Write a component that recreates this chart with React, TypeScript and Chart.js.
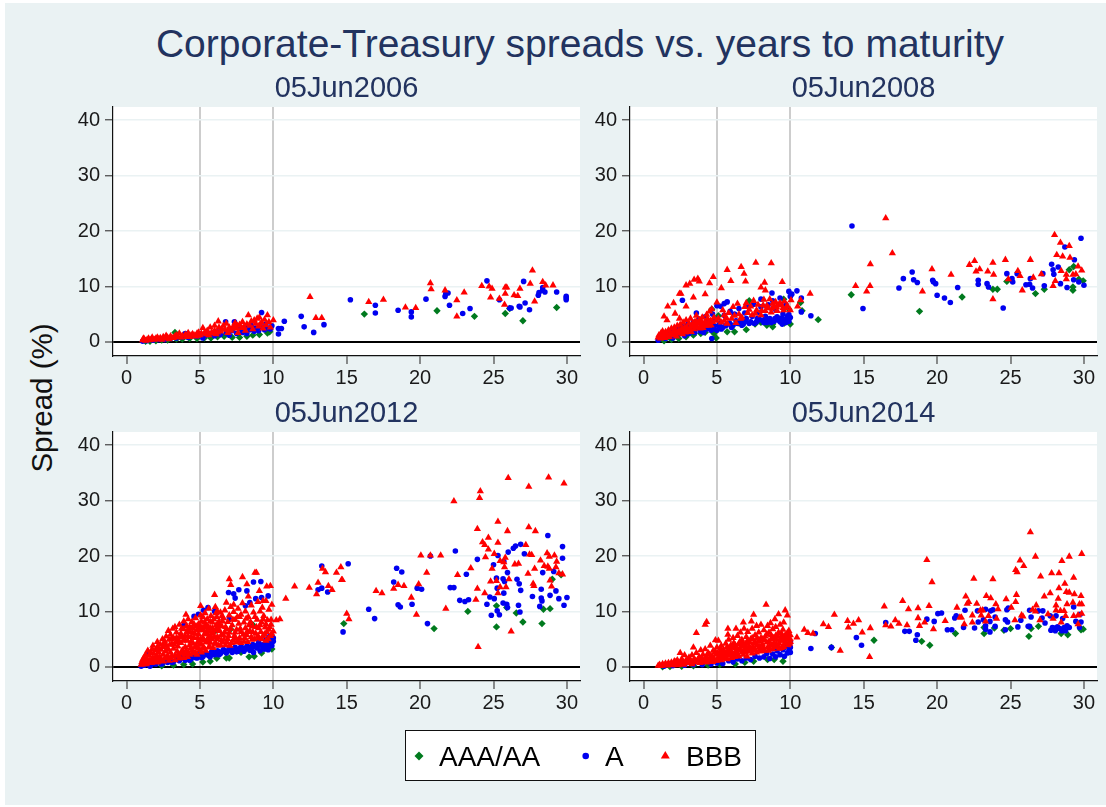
import React, { useEffect, useRef } from "react";
import { Chart, registerables } from "chart.js";

Chart.register(...registerables);

const FONT = "'Liberation Sans', Arial, sans-serif";
const NAVY = "#22335f";
const BG = "#eaf2f3";
const GREEN = "#007a1e";
const BLUE = "#0000f0";
const RED = "#ff0000";

const xTicks = [0, 5, 10, 15, 20, 25, 30];
const yTicks = [0, 10, 20, 30, 40];
const mainTitle = "Corporate-Treasury spreads vs. years to maturity";
const yLabel = "Spread (%)";
const panelTitles = ["05Jun2006", "05Jun2008", "05Jun2012", "05Jun2014"];
const legendLabels = ["AAA/AA", "A", "BBB"];

type P = number[];

const p1Green: P[] = [[1.3,.1],[1.6,.1],[2,.2],[2.4,.3],[2.8,.3],[3.3,1.7],[3.4,.5],[3.8,.5],[4.3,.6],[4.8,.6],[5.3,.7],[5.75,.7],[6.2,.9],[6.65,1],[7.2,.8],[7.7,.8],[8.2,1],[8.6,1.2],[9.05,1.3],[9.6,1.6],[9.75,1.8],[16.2,5],[21.15,5.6],[23.7,4.6],[25.8,5.1],[26.1,6],[27,3.8],[29.3,6.2]];
const p1Blue: P[] = [[1.1,.1],[1.4,.2],[1.8,.3],[2.2,.4],[2.6,.4],[3,.6],[3.4,.7],[3.8,.9],[4,1.5],[4.2,.8],[4.5,1.1],[4.8,1],[5,1.4],[5.2,.7],[5.4,1.2],[5.7,1.5],[6,1.1],[6.2,1.8],[6.4,1.3],[6.75,3.6],[6.8,1.6],[7,1.2],[7.2,2],[7.35,3.6],[7.5,1.5],[7.7,2.3],[7.9,1.7],[8.1,2.6],[8.2,1.5],[8.4,2.2],[8.5,3],[8.7,1.9],[8.8,2.5],[9,2],[9.2,5.3],[9.2,2.7],[9.4,2.2],[9.5,3.2],[9.6,2.5],[9.8,2.3],[9.9,2.9],[10.75,3.7],[10.55,2.4],[10.35,2.4],[10.35,1.4],[11.9,4.6],[12.1,2.7],[12.75,1.7],[13.45,3.1],[15.25,7.6],[16.95,6.6],[16.95,5.2],[18.5,5.7],[19.4,5.4],[19.4,4.5],[20.4,7.7],[21.7,8.2],[21.75,8.7],[21.9,8.8],[22,6.6],[22.9,5.1],[23.4,6],[24.55,11],[25.4,7.6],[26.1,6.1],[26.2,6.1],[26.75,6.4],[26.8,6.3],[27.05,10.9],[27.15,7],[27.45,5.8],[28.05,8.4],[28.1,8.9],[28.35,9.3],[28.35,9.8],[28.5,9],[29.3,9],[29.95,8.2],[29.95,7.6],[29.95,7.9]];
const p1Red: P[] = [[1.1,.3],[1.15,.6],[1.2,.5],[1.3,.2],[1.4,.4],[1.5,.6],[1.6,.3],[1.7,.5],[1.75,.8],[1.9,.4],[2,.6],[2.1,.8],[2.2,.5],[2.3,.7],[2.4,.4],[2.5,.9],[2.6,.6],[2.7,1.1],[2.8,.8],[2.9,.5],[3,1],[3.2,.7],[3.4,1.2],[3.5,.9],[3.6,1.5],[3.8,1.1],[4,1.3],[4.1,.9],[4.2,1.6],[4.4,1.2],[4.5,1.4],[4.7,1],[4.8,1.5],[4.9,1.7],[5,1.2],[5.2,2.5],[5.3,1.6],[5.5,2],[5.6,1.2],[5.7,2.6],[5.8,1.7],[6,2.9],[6,2],[6.1,1.4],[6.25,3.7],[6.3,2.6],[6.4,1.9],[6.6,2.9],[6.7,2.2],[6.8,3.3],[6.9,1.6],[7,2.6],[7.1,2],[7.3,2.9],[7.4,3.4],[7.5,2.4],[7.6,1.6],[7.7,3.1],[7.9,3.6],[8,2.7],[8.1,2],[8.3,4.8],[8.4,2.9],[8.5,3.7],[8.6,2.3],[8.8,3.3],[8.9,4.2],[9,2.8],[9.05,4.4],[9.2,3.5],[9.3,2.4],[9.4,4],[9.5,3],[9.6,4.8],[9.7,3.6],[9.8,2.6],[10,3.9],[12.5,8.1],[12.9,4.3],[13.3,4.3],[16.5,7.2],[17.5,7.6],[19,6.2],[19.7,6.1],[20.7,10.6],[20.75,9.5],[21.7,9.3],[22.5,7.5],[22.5,4.6],[23,8.9],[24.2,10.1],[24.7,10],[24.9,9.6],[24.8,8],[25.4,7.8],[25.8,9.8],[25.9,9.8],[25.8,8.7],[25.75,6.7],[26.4,8.4],[26.65,8.3],[26.8,9.6],[27.5,10.5],[27.65,12.9],[27.8,7.3],[28.35,10.8],[28.55,10.2],[29.05,10.2]];
const p1RedFill: P[] = [[3.1,.7],[3.3,1],[3.7,.8],[4.3,.9],[4.6,1.2],[4.85,1.1],[5.1,1.5],[5.45,1.4],[5.9,1.5],[6.2,1.7],[6.5,2.3],[6.95,2.2],[7.25,2.4],[7.55,2.9],[7.85,2.5],[8.2,3.2],[8.7,3.9],[9.1,3.1]];

const p2Green: P[] = [[1.4,.2],[1.9,.4],[2.4,.6],[2.9,.9],[3.4,1.2],[3.9,1.5],[4.2,1.7],[4.8,1.5],[4.95,.7],[5.1,4.7],[4.65,5.9],[5.7,1.8],[5.9,3.2],[6.2,1.8],[6.5,3.4],[7,2.2],[7.2,7.4],[7.6,3.2],[8,3.5],[8.4,3],[8.8,2.7],[8.8,3.2],[9.2,4.1],[9.55,7.7],[9.6,3.4],[9.9,5.9],[10,3.2],[10.7,7.1],[10.8,5.6],[11.9,4],[14.15,8.5],[18.8,5.5],[21.7,8.1],[23.8,9.5],[24.1,9.5],[24.75,10.9],[26.7,8.7],[27.3,9.5],[29,13],[29.3,13.6],[29.65,11.3],[29.25,9.9],[29.25,9.3],[29.95,11]];
const p2Blue: P[] = [[1,.3],[1.2,.8],[1.3,1.3],[1.5,.6],[1.6,1.6],[1.8,1],[1.9,1.9],[2,.7],[2.2,1.3],[2.3,2.3],[2.5,1.5],[2.6,2.8],[2.65,7.5],[2.8,1.1],[2.9,1.9],[3,3.1],[3.1,1.5],[3.3,2.3],[3.4,3.5],[3.5,1.7],[3.6,5.2],[3.7,2.5],[3.8,4.1],[3.9,1.9],[4,3.1],[4.1,1.7],[4.2,4.5],[4.3,2.3],[4.4,3.6],[4.6,2.1],[4.65,.6],[4.7,5],[4.8,2.9],[4.9,4.1],[5,2.1],[5,6.5],[5.2,3.4],[5.25,6.4],[5.4,2.6],[5.5,6.9],[5.5,4.8],[5.7,7.2],[5.7,3.2],[5.9,5.5],[6,2.6],[6.2,5],[6.3,3.8],[6.5,6],[6.7,3],[6.8,3.2],[6.9,5.2],[7,4.2],[7.1,6.4],[7.2,3.3],[7.4,4.6],[7.5,6.8],[7.7,3.6],[7.8,5.3],[7.9,4],[8,7.7],[8,6.3],[8.2,3.5],[8.3,4.6],[8.4,3.5],[8.5,6.7],[8.6,4.2],[8.75,8.8],[8.8,7.4],[8.9,3.7],[9,5.8],[9.1,4.5],[9.3,7.9],[9.3,3.6],[9.45,3.2],[9.5,5],[9.6,4],[9.7,6.7],[9.8,4.6],[9.9,9.1],[9.9,3.7],[10,4.4],[10,8.2],[10.1,8.6],[10.45,9.2],[10.75,7.9],[10.75,5.4],[11.4,4.7],[14.2,20.9],[14.95,6],[17.4,9.7],[17.7,11.4],[18.3,12.6],[18.4,11.2],[18.65,10.7],[19.7,11.1],[19.75,10.8],[19.9,10.5],[20,8.4],[20.5,7.9],[20.9,7.1],[21.4,9.8],[22.8,11.1],[22.8,10.4],[23.4,10.5],[23.5,9.9],[24.5,6.1],[24.75,12.3],[25.1,11.4],[25.15,10.8],[25.45,12.3],[26.05,10.3],[26.3,10.4],[26.35,11.4],[26.5,9.7],[27.2,12.3],[27.3,10.1],[27.8,14],[27.9,13],[27.95,12.2],[28.25,13.5],[28.7,17.1],[28.4,10.5],[28.85,9.8],[29.35,14.8],[29.3,11.2],[29.65,10.8],[29.8,18.7],[30,10.2]];
const p2BlueFill: P[] = [[4.5,2.6],[4.75,2.3],[5.1,2.9],[5.3,2.3],[5.6,2.9],[5.85,3.4],[6.1,3],[6.4,3.3],[6.6,3.7],[6.95,3.7],[7.3,3.6],[7.55,3.3],[7.75,4.2],[8.1,3.9],[8.45,3.9],[8.7,3.5],[8.95,4.2],[9.2,3.9],[9.4,4.3],[9.7,3.5],[9.9,4.9]];
const p2Red: P[] = [[1,.8],[1.05,1.2],[1.1,.9],[1.2,1.6],[1.25,1],[1.3,1.9],[1.4,1.3],[1.4,4.6],[1.5,1.8],[1.6,3.9],[1.6,1.2],[1.65,6.4],[1.7,2.1],[1.8,1.5],[1.9,2.4],[2,1.8],[2.05,7],[2.1,2.6],[2.15,5.1],[2.2,1.5],[2.3,2.9],[2.4,2],[2.45,8.7],[2.45,4.2],[2.5,3.1],[2.55,8.7],[2.6,2.3],[2.7,3.5],[2.8,2.6],[2.9,10.2],[2.9,6.4],[2.9,3.9],[3,2.2],[3.1,3.3],[3.15,10.5],[3.2,4.2],[3.3,2.8],[3.4,8],[3.45,11.2],[3.5,3.6],[3.6,4.7],[3.65,2.6],[3.7,11.4],[3.8,10.9],[3.8,3.9],[3.9,3],[4,4.4],[4.1,2.9],[4.2,8.6],[4.2,3.6],[4.3,4.9],[4.4,3.4],[4.5,10.6],[4.5,5.5],[4.6,3],[4.65,5.9],[4.75,11.7],[5,7.1],[5.1,4.2],[5.3,9.7],[5.3,3.5],[5.4,5.7],[5.5,4.8],[5.7,13],[5.7,3.3],[5.8,5.2],[5.95,11],[6,4.2],[6.1,6.3],[6.3,3.4],[6.4,6.9],[6.5,5],[6.65,13.5],[6.7,4.4],[6.85,12.3],[6.9,6.3],[6.95,10.9],[7,7],[7.1,5.2],[7.3,6.4],[7.4,4.8],[7.5,7.4],[7.65,14.3],[7.7,5.7],[7.8,6.7],[8,9.8],[8,4.8],[8.2,7.6],[8.25,10.7],[8.3,9.3],[8.3,5.6],[8.4,6.5],[8.6,7.7],[8.7,14.2],[8.7,5.3],[8.9,6.4],[9,7.2],[9.1,5.6],[9.3,7],[9.45,10.8],[9.5,6.1],[9.6,7.3],[9.8,6.5],[10,5.7],[10.05,7.5],[10.5,6.4],[10.7,7.5],[11.35,8.7],[16.5,22.3],[16.95,16],[15.45,14],[14.45,10.1],[15.43,10.1],[15.2,9.1],[19.65,13.1],[20.95,12.1],[19,9.1],[22.2,13.9],[22.55,14.6],[22.65,12.7],[22.9,13.1],[23.45,12.7],[23.8,14.3],[23.85,12.1],[23.8,7.7],[24.65,14.8],[24.85,11.3],[25.5,12.8],[25.65,11.9],[25.8,9.3],[26.35,14.8],[26.55,11.6],[27.1,12.2],[27.9,10.1],[28.05,11],[28,19.3],[28.4,17.9],[29,17.3],[28.15,15.7],[28.55,15.4],[29.05,15.2],[28.45,12.8],[28.8,12.1],[28.8,11.3],[29.25,12.1],[29.45,12.2],[29.6,13.6],[29.85,12.9]];
const p2RedFill: P[] = [[1.15,.6],[1.35,.9],[1.55,1.4],[1.75,.9],[1.95,1.2],[2.15,2],[2.35,1.7],[2.55,1.6],[2.75,2.1],[2.95,2.6],[3.15,2.4],[3.35,3.3],[3.55,3],[3.75,3.4],[3.95,3.7],[4.15,3.3],[4.35,4.2],[4.55,3.8],[4.8,4.4],[5.5,3.8],[5.65,4.3],[6.2,4.7],[6.6,4.2],[7.2,5.8],[7.6,5.1],[8.05,5.6],[8.5,6.1],[8.8,6.9],[9.05,6.3],[9.4,6.6],[1.45,.7],[2.05,1.4],[2.25,1],[2.65,1.4],[2.85,1.7],[3.05,1.9],[3.25,1.8],[3.45,2.3],[3.6,3.7],[3.85,2.4],[4.05,2.5],[4.25,2.9],[4.45,2.9],[4.7,3.6],[4.95,3.8],[8.15,6.6],[8.75,6],[9.2,6.6],[9.55,5.7],[9.7,6.1]];

const p3Green: P[] = [[2.4,.2],[3.2,.3],[3.9,.4],[4.5,.5],[5.2,.85],[5.7,1],[6.15,1.55],[6.8,1.6],[7,1.6],[7.8,2.6],[8.35,1.8],[8.7,1.9],[9.2,2.5],[9.9,3.2],[6.1,6.6],[7.1,6.8],[8.6,7.6],[14.8,7.8],[29,15.8],[29.6,16.6],[25.2,11],[25.9,10.7],[28.4,10.4],[28.85,10.5],[23.25,10],[26.55,9.7],[27,8.1],[25.2,7.2],[28.3,7.8],[20.95,6.9]];
const p3Blue: P[] = [[1,.1],[1.2,.3],[1.4,.6],[1.5,2.4],[1.6,.1],[1.8,.9],[2,.5],[2.2,1.1],[2.4,.5],[2.6,1.2],[2.8,.8],[3,1.3],[3.2,.9],[3.4,1.6],[3.6,1.1],[3.8,1.7],[3.9,7.5],[4,1.2],[4.2,1.9],[4.4,1.4],[4.6,9.1],[4.6,2.1],[4.8,1.6],[4.9,9.5],[5,2.2],[5.2,1.8],[5.25,10.2],[5.4,2.5],[5.55,10.7],[5.6,2],[5.8,2.7],[6,2.2],[6,10],[6.2,2.9],[6.4,2.4],[6.6,3.1],[6.8,2.5],[6.95,13.4],[7,3.3],[7,8.6],[7.2,2.6],[7.3,13.2],[7.4,12.4],[7.4,3.5],[7.6,2.8],[7.65,13.9],[7.8,3.6],[8,2.8],[8.1,11],[8.2,13.7],[8.2,3.7],[8.4,11.6],[8.4,3],[8.6,4],[8.65,15.3],[8.65,2.6],[8.8,12.3],[8.9,3.4],[9,4.4],[9.1,2.9],[9.15,15.4],[9.2,12.5],[9.3,4],[9.4,3.2],[9.5,4.9],[9.6,3.6],[9.65,12.8],[9.65,3.1],[9.7,5.4],[9.8,4.2],[9.9,5.6],[9.9,3.8],[10,5.2],[10,4.6],[13.3,18.2],[13.05,13.9],[13.3,14.2],[13.7,13.5],[15.1,18.6],[14.75,6.3],[16.5,10.4],[16.9,8.7],[18.2,15.3],[18.4,17.8],[18.75,17.1],[18.5,11.2],[18.65,10.8],[19.45,11.3],[19.8,14.2],[20.1,14],[20.5,7.8],[20.7,20],[22.05,14.3],[22.3,14.3],[22.4,20.9],[22.7,12],[23.05,11.8],[23.15,16.7],[23.3,12.1],[23.9,19.4],[24.55,11.3],[24.75,12.6],[24.85,9.3],[25,18.4],[25.05,12.3],[25.2,16],[25.25,14.2],[25.25,10.1],[25.3,20.1],[25.4,9.4],[25.65,15.9],[25.65,11.5],[25.7,19],[25.7,13.3],[25.75,15.4],[25.9,11.3],[25.95,17],[25.95,10.7],[26,20.7],[26.35,21.4],[26.5,21.8],[26.6,15.8],[26.7,11.1],[26.75,15],[26.8,9.9],[26.85,22.1],[26.85,13.8],[27.1,20.4],[27.65,12.7],[28.15,10.9],[28.25,14],[28.25,12.4],[28.3,11.9],[28.35,17],[28.7,23.7],[28.85,12.9],[29.1,17.2],[29.25,13.7],[29.45,12.3],[29.7,21.7],[29.7,19.6],[29.8,11.1],[30,12.5]];
const p3BlueFill: P[] = [[1.3,.8],[1.7,.4],[2.1,.9],[2.5,.8],[2.9,1.2],[3.1,.8],[3.5,1.3],[3.7,1.5],[4.1,1.6],[4.3,1.2],[4.5,1.8],[4.7,1.7],[4.9,2],[5.1,1.7],[5.3,2.2],[5.5,2.3],[5.7,1.8],[5.9,2.4],[6.1,2.6],[6.3,2.2],[6.5,2.7],[6.7,2.8],[6.9,2.9],[7.1,3],[7.3,3.1],[7.5,2.7],[7.7,3.3],[7.9,3.4],[8.1,3.2],[8.3,3.6],[8.5,3.3],[8.7,3.6],[8.9,3.9],[9.1,3.9],[9.3,3.4],[9.5,4.3],[9.7,4.6],[9.9,4.8]];
const p3Red: P[] = [[1,.4],[1.05,.9],[1.1,1.3],[1.15,.5],[1.2,1.7],[1.25,.9],[1.3,2.2],[1.35,.5],[1.4,1.4],[1.45,2.9],[1.5,.8],[1.55,2],[1.6,1.2],[1.65,2.6],[1.7,.7],[1.75,3.2],[1.8,3.8],[1.8,1.6],[1.85,2.4],[1.9,.9],[2,3],[2,1.5],[2.05,2.1],[2.1,4.5],[2.1,3.6],[2.15,1],[2.2,2.6],[2.25,1.8],[2.3,4],[2.35,3.1],[2.4,1.2],[2.45,5],[2.5,2.2],[2.5,3.6],[2.6,4.6],[2.6,1.5],[2.65,2.8],[2.7,5.5],[2.7,3.9],[2.8,2],[2.85,6.5],[2.85,3.2],[2.9,4.9],[3,1.6],[3,5.8],[3,2.6],[3.1,4.1],[3.15,6.9],[3.2,3.3],[3.2,5.2],[3.3,2],[3.3,7.2],[3.35,4.5],[3.4,6.2],[3.45,2.8],[3.5,5],[3.5,3.7],[3.6,7.6],[3.6,1.9],[3.7,6],[3.7,4.3],[3.8,3],[3.8,5.4],[3.9,8.2],[3.9,6.8],[3.95,2.3],[4,4.8],[4,3.6],[4.05,9.4],[4.1,6.3],[4.2,8.6],[4.2,2.6],[4.2,5.5],[4.3,3.9],[4.3,7.2],[4.4,4.6],[4.45,8.1],[4.5,6.2],[4.5,3],[4.6,5.2],[4.6,7.7],[4.7,2.5],[4.7,8.8],[4.75,3.7],[4.8,6.7],[4.85,4.5],[4.9,5.9],[5,7.4],[5,3],[5.05,11],[5.05,9.3],[5.1,4],[5.1,8.2],[5.2,5.2],[5.25,6.6],[5.3,3.3],[5.35,9.7],[5.4,7.7],[5.45,4.5],[5.5,8.6],[5.5,5.9],[5.6,10.5],[5.65,3.7],[5.7,7],[5.75,9.2],[5.8,5],[5.85,8],[5.9,6.2],[6,13],[6,4.2],[6.05,10.8],[6.1,7.5],[6.15,9],[6.2,5.4],[6.25,3.8],[6.3,8.2],[6.35,6.5],[6.4,9.8],[6.45,4.8],[6.5,7.3],[6.6,5.7],[6.6,8.8],[6.7,10.2],[6.75,3.9],[6.8,11.6],[6.8,6.8],[6.9,8.1],[6.9,5],[7,15.8],[7,9.3],[7,6.2],[7.1,14.8],[7.1,10.8],[7.15,4.3],[7.2,7.5],[7.3,9.9],[7.35,5.6],[7.4,8.5],[7.5,4.4],[7.5,6.7],[7.6,10.5],[7.65,7.8],[7.7,5.2],[7.8,9.4],[7.8,6.3],[7.9,16.2],[7.9,11.5],[8,4.6],[8,8],[8.1,7],[8.1,10],[8.2,14.9],[8.2,5.7],[8.3,9],[8.3,12.7],[8.4,6.5],[8.45,8.1],[8.5,11.1],[8.55,4.9],[8.6,7.3],[8.65,9.8],[8.75,17],[8.8,6],[8.85,17],[8.9,8.5],[8.95,11.7],[9,5.2],[9,7],[9.05,13.7],[9.1,10],[9.15,6.3],[9.2,8],[9.3,5.6],[9.3,11.9],[9.35,9.2],[9.45,7.1],[9.5,11.9],[9.5,4.7],[9.55,14.5],[9.55,6.3],[9.6,8.4],[9.7,10.3],[9.75,7.2],[9.8,14.6],[9.8,5.6],[9.85,8.5],[9.9,11.2],[10,6.4],[10.2,8.4],[10.45,8.6],[10.85,12.3],[11.45,14.5],[12.45,14.3],[12.95,13.1],[13.05,15.2],[13.35,17.7],[13.55,17.1],[13.75,14.6],[14,13.9],[14.3,17],[14.6,18],[14.65,15.7],[14.7,15.7],[15,9.6],[15.15,8.6],[17,13.7],[17.4,13.3],[18.2,14.1],[18.5,14.8],[18.9,14.6],[19.4,12.5],[19.75,9.4],[19.9,14.9],[20.05,20.1],[20.45,17],[20.7,20.1],[21.4,20.1],[21.75,10.5],[22.3,29.9],[22.55,16.6],[23.45,17.8],[23.8,12.1],[23.9,24.9],[23.9,14.1],[23.95,3.6],[24.05,30.5],[24.1,31.7],[24.25,22.5],[24.4,22],[24.4,13.3],[24.45,19.8],[24.65,23.3],[24.65,21.2],[24.8,15.4],[24.9,17.7],[25.05,20.4],[25.2,15.5],[25.3,26.2],[25.3,22.4],[25.3,13.3],[25.45,19.1],[25.45,14.4],[25.7,18.9],[25.75,18],[25.8,19.7],[25.85,14.4],[25.95,24.5],[26,34.1],[26.05,15.8],[26.2,6.4],[26.45,18.5],[26.7,18.6],[27.2,22],[27.35,16.8],[27.4,32.5],[27.4,25.2],[27.45,20.3],[27.6,20.2],[27.7,15],[27.75,14.6],[27.8,17.7],[27.85,24.5],[28.2,19.2],[28.45,18.2],[28.65,20.5],[28.7,18.1],[28.75,34.2],[28.8,19.9],[28.8,17.7],[28.85,15.6],[28.95,14.5],[29.15,20.1],[29.25,18],[29.3,19],[29.45,16.9],[29.7,16.7],[29.8,33.1]];
const p3RedFill: P[] = [[1.6,.7],[1.9,1.3],[2.1,.8],[2.3,1.5],[2.5,1],[2.7,1.7],[2.9,1.1],[3.1,1.9],[3.3,1.2],[3.5,2.2],[3.6,1.5],[3.75,2.5],[3.9,1.6],[4.05,2.9],[4.15,1.8],[4.3,2.2],[4.35,3.3],[4.5,2.4],[4.65,3.5],[4.8,2.2],[4.9,3.3],[5,4.2],[5.1,2.6],[5.25,3.6],[5.3,4.7],[5.4,2.9],[5.55,5.2],[5.6,3.5],[5.7,4.4],[5.8,6],[5.9,3.4],[6,5.4],[6.1,4.2],[6.2,6.8],[6.25,7.9],[6.4,3.9],[6.55,4.4],[6.7,6.2],[6.85,4.4],[7.05,3.8],[7.25,4.7],[7.4,6.2],[7.6,4.7],[7.8,4.3],[8.05,5.2],[8.25,4.5],[8.5,5.4],[8.7,5],[8.95,5.6],[9.2,5],[9.4,5.9],[9.65,5],[9.9,5.9],[4.3,6.3],[4.9,7.7],[5.3,8],[5.7,8.2],[6.1,9.7],[6.5,9.2],[7.3,11.2],[7.7,9],[8.15,8.7],[8.75,9],[9.25,10.7],[2.2,3.3],[2.55,4.2],[2.75,3.1],[2.95,4],[3.05,5],[3.25,4],[3.4,5.2],[3.55,4.4],[3.65,5.4],[3.75,6.9],[3.85,4.7],[4,5.6],[4.1,7.4],[4.15,4.7],[4.25,6.7],[4.4,5.4],[4.5,7],[4.55,4.2],[4.65,6],[4.75,7.3],[4.85,5.2],[4.95,6.6],[5.05,5],[5.15,7],[5.2,9],[5.3,5.9],[5.35,7.2],[5.45,6.4],[5.55,7.3],[5.6,4.4],[5.65,6.4],[5.75,5.5],[5.85,7],[5.95,8.6],[6.05,6.6],[6.15,5],[6.2,10],[6.35,7.4],[6.45,5.7],[6.55,8.2],[6.65,4.9],[6.75,7.2],[6.95,5.6],[7.1,6.9],[7.25,8.5],[7.45,5.1],[7.55,9],[7.75,6.9],[7.95,5.8],[8.2,6.3],[8.35,7.5],[8.6,6.3],[8.85,7.2],[9.1,7.5],[9.3,8.6],[9.5,7.7],[9.7,6.7],[9.85,7.6]];

const p4Green: P[] = [[1.3,0],[1.8,.05],[2.6,.1],[3.4,.2],[4.4,.3],[5.2,.4],[6.25,.5],[6.9,.8],[7.5,1],[8.45,1.3],[8.9,1.3],[9.5,1],[12.8,3.5],[15.7,4.8],[18.95,4.6],[19.5,3.9],[21.25,6],[23.2,6],[23.2,7.1],[23.9,7],[24.55,6.6],[25,6.9],[26.25,5.5],[26.4,6.9],[26.9,7.3],[28.45,6],[28.9,5.8],[29.8,6.7],[29.95,6.8]];
const p4Blue: P[] = [[1.4,.1],[2,.2],[2.8,.3],[3.4,.4],[4,.4],[4.6,.5],[5,.7],[5.4,.6],[5.8,1.1],[6.1,.9],[6.4,1.4],[6.7,1.1],[7,1.6],[7.3,1.3],[7.6,1.9],[7.9,1.6],[8.2,1.8],[8.4,2.4],[8.6,1.5],[8.8,2.3],[9,1.8],[9.1,2.9],[9.3,2.2],[9.5,3.1],[9.6,1.9],[9.7,3.6],[9.8,2.5],[9.9,2.8],[10,4.4],[10,2.6],[10,3.5],[11.7,6],[11.4,3.3],[12.8,3.5],[14.5,5.3],[14.85,3.9],[16.5,8],[17.8,6.4],[18.1,6.4],[18.65,5.8],[18.55,4.8],[19.3,8.6],[19.8,8.2],[20.05,9.6],[20.3,9.7],[20.7,6.7],[21,6.7],[21.2,8.8],[21.3,9.2],[21.8,7.1],[21.9,10.2],[22.55,7],[22.8,8.1],[22.75,10.1],[23.15,8.5],[23.3,10.4],[23.65,10.1],[23.8,10.3],[23.6,8.2],[23.6,6.3],[23.3,7.4],[23.3,6.8],[23.95,7.3],[23.95,9],[24.65,8.5],[24.8,8.1],[24.65,6.7],[24.75,10.3],[24.85,10.6],[25.5,7.2],[25.7,8.4],[26.3,10.2],[26.4,9],[26.2,7.3],[26.3,7.3],[26.9,10.1],[27.2,10.1],[27.15,8.8],[27.35,7.9],[27.7,9.2],[28.1,9.2],[27.75,6.6],[27.85,7.1],[28.05,6.5],[28.2,7.2],[28.35,6.9],[28.5,6.5],[28.65,7.1],[28.85,7.4],[29,7.1],[28.75,6.5],[27.95,7],[28.55,8.7],[29.3,10.8],[29.45,8.2],[29.8,8.1],[29.7,7.1],[29.75,9.5]];
const p4Red: P[] = [[1,.2],[1.1,.4],[1.2,.15],[1.3,.5],[1.4,.3],[1.5,.6],[1.6,.25],[1.7,.7],[1.8,.4],[1.9,.8],[2,.3],[2.05,.6],[2.1,1],[2.2,.5],[2.3,1.2],[2.35,.3],[2.4,.8],[2.5,2.5],[2.5,.5],[2.6,1.4],[2.7,.9],[2.75,.4],[2.8,2.1],[2.9,1.2],[3,.7],[3.1,1.7],[3.2,1],[3.3,2.1],[3.3,.5],[3.4,3.5],[3.45,1.4],[3.5,.8],[3.6,6.1],[3.6,2.5],[3.7,1.1],[3.8,1.8],[3.85,.7],[3.9,3],[4,1.4],[4.05,2.2],[4.1,.9],[4.2,7.6],[4.2,3.2],[4.25,1.7],[4.3,8.1],[4.3,.8],[4.4,2.5],[4.5,1.2],[4.55,3.8],[4.6,1.9],[4.7,.9],[4.75,2.9],[4.8,1.4],[4.9,4.8],[4.95,2.2],[5,1.1],[5,3.5],[5.1,4.7],[5.15,1.7],[5.2,2.7],[5.3,1.2],[5.3,3.8],[5.4,2.1],[5.45,3.1],[5.5,1.5],[5.6,4.2],[5.65,2.5],[5.7,1.4],[5.75,6.9],[5.75,5.8],[5.8,3.2],[5.8,4.9],[5.9,2],[5.95,3.9],[6,1.6],[6,2.8],[6.1,5.2],[6.15,4.3],[6.2,1.8],[6.3,6.9],[6.3,3.4],[6.35,2.4],[6.4,5.6],[6.5,4.1],[6.5,1.9],[6.6,6.2],[6.6,2.9],[6.7,3.7],[6.7,4.9],[6.8,8],[6.8,2.2],[6.85,6.9],[6.9,3.2],[7,5.4],[7,4.3],[7.05,1.9],[7.1,6.3],[7.15,2.8],[7.2,3.7],[7.3,5],[7.35,8.2],[7.4,6.9],[7.4,2.4],[7.5,9.4],[7.5,4.2],[7.55,3.2],[7.6,5.7],[7.7,7.4],[7.7,2.6],[7.8,4.6],[7.85,6.2],[7.9,3.6],[8,5.2],[8,7.6],[8,2.8],[8.1,4.1],[8.2,6.6],[8.2,3.2],[8.3,5.5],[8.35,11.2],[8.4,4.4],[8.45,7.4],[8.5,2.9],[8.55,6.2],[8.6,3.8],[8.65,7.9],[8.7,5],[8.8,6.8],[8.8,3.2],[8.9,4.3],[8.95,8.6],[9,5.6],[9,7.2],[9.1,3.6],[9.2,9.5],[9.2,6.2],[9.3,4.7],[9.3,7.6],[9.4,3.4],[9.45,5.4],[9.5,6.7],[9.55,8],[9.6,4.2],[9.65,10.2],[9.7,5.2],[9.8,9.3],[9.8,6.1],[9.85,3.9],[9.9,4.9],[10,5.7],[10.45,5.3],[10.95,6.7],[11.2,6.1],[11.55,6],[12.25,7.7],[12.6,7.2],[13,9.4],[13.4,2.9],[13.9,8.3],[13.95,7.1],[14.3,7.8],[14.65,8.4],[14.9,6.2],[15.4,1.8],[15.45,7],[16.4,10.9],[16.5,7.5],[16.85,7.3],[17.15,8.4],[17.4,7.8],[17.65,11.9],[17.95,7.5],[18.05,10.4],[18.7,10.6],[18.7,8.8],[18.8,7.4],[19.15,8],[19.3,19.3],[19.45,11],[19.65,15.3],[19.75,6.8],[20.55,8.3],[21.35,10.7],[21.55,8.9],[21.65,8.9],[21.85,7.7],[21.95,12.7],[22.05,11.4],[22.15,11.7],[22.4,9.3],[22.4,8],[22.5,15.9],[22.7,11.4],[22.95,10.2],[23,9.3],[23.1,10.2],[23.3,8.2],[23.35,12.8],[23.5,9.2],[23.65,12.4],[23.8,15.8],[24,11.3],[24.05,8.7],[24.15,10.4],[24.7,12.2],[25.05,10.7],[25.3,8.4],[25.35,17.5],[25.35,11.7],[25.4,13],[25.45,17.1],[25.65,19.2],[25.75,9.3],[25.85,9.1],[25.9,18.2],[26.35,24.3],[26.5,10.3],[26.7,19.9],[26.7,10],[26.75,11.1],[27,8.4],[27.05,16.3],[27.3,12.7],[27.55,9.5],[27.7,13.3],[27.8,16.9],[27.9,8.7],[28.1,11.1],[28.1,10.2],[28.25,12.3],[28.3,16.9],[28.3,14.2],[28.4,10.1],[28.45,8],[28.5,19.1],[28.65,10.1],[28.7,15],[28.75,9.2],[28.8,13.5],[28.85,11.3],[29,19.9],[29,13.4],[29.25,11.6],[29.3,16.1],[29.3,9.2],[29.35,13.1],[29.6,9.3],[29.6,7.7],[29.7,11.3],[29.8,12.8],[29.85,20.4],[29.85,11.3],[29.85,9.6]];
const p4RedFill: P[] = [[2.2,.9],[2.55,.9],[2.85,.7],[3.05,1.1],[3.25,.7],[3.55,1.1],[3.75,1.5],[3.95,1.1],[4.15,1.3],[4.35,1.5],[4.55,1.1],[4.65,1.6],[4.85,1.1],[5.05,1.5],[5.25,1.7],[5.35,2.3],[5.55,1.9],[5.75,2.2],[5.85,2.7],[6.05,2.1],[6.25,2.7],[6.45,2.2],[6.55,3.3],[6.75,2.7],[6.95,2.6],[7.1,3.3],[7.25,3.1],[7.45,3.6],[7.65,3],[7.75,3.9],[7.95,3.2],[8.15,3.6],[8.25,2.9],[8.45,3.5],[8.6,3.2],[8.75,4],[8.95,3.6],[9.05,4.1],[9.25,3.3],[9.35,5.2],[9.55,3.6],[9.7,4.4],[9.95,4.2],[10,5],[4.5,2.2],[4.7,1.9],[4.9,2.7],[5.05,2.4],[5.25,3.3],[5.5,2.7],[5.7,3.6],[5.9,3],[6.05,3.5],[6.25,3.9],[6.4,3.1],[6.55,4.5],[6.75,4.3],[6.9,3.9],[7.1,4.7],[7.25,4.4],[7.4,5.2],[7.6,4.5],[7.75,5.2],[7.9,4.6],[8.1,5],[8.25,4.8],[8.4,5.9],[8.55,4.6],[8.7,5.7],[8.85,5.2],[9.05,4.9],[9.15,5.5],[9.25,4.2],[9.4,6],[9.55,4.7],[9.65,5.7],[9.8,5.2],[9.9,6.5],[10,4.5]];

const panelData = [
  { green: p1Green, blue: p1Blue, red: [...p1Red, ...p1RedFill] },
  { green: p2Green, blue: [...p2Blue, ...p2BlueFill], red: [...p2Red, ...p2RedFill] },
  { green: p3Green, blue: [...p3Blue, ...p3BlueFill], red: [...p3Red, ...p3RedFill] },
  { green: p4Green, blue: p4Blue, red: [...p4Red, ...p4RedFill] },
];

const toXY = (pts: P[]) => pts.map(([x, y]) => ({ x, y }));

function Panel({ index, left, top }: { index: number; left: number; top: number }) {
  const ref = useRef<HTMLCanvasElement>(null);
  useEffect(() => {
    const d = panelData[index];
    const chart = new Chart(ref.current!, {
      type: "scatter",
      data: {
        datasets: [
          { label: "BBB", data: toXY(d.red), order: 0, pointStyle: "triangle", pointRadius: 4.2, pointHoverRadius: 4.2, pointBorderWidth: 0, backgroundColor: RED },
          { label: "A", data: toXY(d.blue), order: 1, pointStyle: "circle", pointRadius: 2.8, pointHoverRadius: 2.8, pointBorderWidth: 0, backgroundColor: BLUE },
          { label: "AAA/AA", data: toXY(d.green), order: 2, pointStyle: "rectRot", pointRadius: 3.7, pointHoverRadius: 3.7, pointBorderWidth: 0, backgroundColor: GREEN },
        ],
      },
      options: {
        animation: false,
        responsive: false,
        events: [],
        layout: { padding: { right: 5 } },
        plugins: {
          legend: { display: false },
          tooltip: { enabled: false },
          title: {
            display: true,
            fullSize: false,
            text: panelTitles[index],
            color: NAVY,
            font: { family: FONT, size: 29, weight: "normal", lineHeight: 1.207 },
            padding: { top: 1, bottom: 1 },
          },
        },
        scales: {
          x: {
            type: "linear",
            min: -0.92,
            max: 30.89,
            afterBuildTicks: (s: any) => { s.ticks = xTicks.map((value) => ({ value })); },
            afterFit: (s: any) => { s.height = 40; },
            ticks: { color: "#1a1a1a", padding: 2, maxRotation: 0, autoSkip: false, font: { family: FONT, size: 20 } },
            border: { display: true, color: "#111", width: 1.2 },
            grid: {
              drawTicks: true,
              tickLength: 8,
              tickColor: "#444",
              tickWidth: 1.2,
              color: (c: any) => (c.tick && (c.tick.value === 5 || c.tick.value === 10) ? "#cdcdcd" : "rgba(0,0,0,0)"),
              lineWidth: 2,
            },
          },
          y: {
            type: "linear",
            min: -2.56,
            max: 42.38,
            afterBuildTicks: (s: any) => { s.ticks = yTicks.map((value) => ({ value })); },
            afterFit: (s: any) => { s.width = 45; },
            ticks: { color: "#1a1a1a", padding: 5, autoSkip: false, font: { family: FONT, size: 20 } },
            border: { display: true, color: "#111", width: 1.2 },
            grid: {
              drawTicks: true,
              tickLength: 8,
              tickColor: "#444",
              tickWidth: 1.2,
              color: (c: any) => (c.tick && c.tick.value === 0 ? "#000" : BG),
              lineWidth: (c: any) => (c.tick && c.tick.value === 0 ? 2 : 1.5),
            },
          },
        },
      },
      plugins: [
        {
          id: "plotWhite",
          beforeDraw: (c: any) => {
            const { ctx, chartArea: a } = c;
            ctx.save();
            ctx.fillStyle = "#fff";
            ctx.fillRect(a.left, a.top, a.right - a.left, a.bottom - a.top);
            ctx.restore();
          },
        },
      ],
    } as any);
    return () => chart.destroy();
  }, [index]);
  return <canvas ref={ref} width={517} height={326} style={{ position: "absolute", left, top, width: 517, height: 326 }} />;
}

const textStyle: React.CSSProperties = { position: "absolute", fontFamily: FONT, whiteSpace: "nowrap", lineHeight: 1 };

export default function App() {
  return (
    <div style={{ position: "absolute", left: 0, top: 0, width: 1106, height: 807, background: "#fff", overflow: "hidden" }}>
      <div style={{ position: "absolute", left: 5, top: 3, width: 1101, height: 802, background: BG }} />
      <div style={{ ...textStyle, left: 5, width: 1150, top: 24, textAlign: "center", fontSize: 39, color: NAVY }}>{mainTitle}</div>
      <div style={{ ...textStyle, left: 42, top: 398, fontSize: 29.5, color: "#111", transform: "translate(-50%,-50%) rotate(-90deg)" }}>{yLabel}</div>
      <Panel index={0} left={68} top={70} />
      <Panel index={1} left={585} top={70} />
      <Panel index={2} left={68} top={395} />
      <Panel index={3} left={585} top={395} />
      <div style={{ position: "absolute", left: 405, top: 730, width: 349, height: 49, background: "#fff", border: "1.5px solid #111" }} />
      <svg width={1106} height={807} style={{ position: "absolute", left: 0, top: 0, pointerEvents: "none" }}>
        <polygon points="419,751.5 423.5,756 419,760.5 414.5,756" fill={GREEN} />
        <circle cx={585.7} cy={756} r={3.3} fill={BLUE} />
        <polygon points="665.3,751 669.8,758.5 660.8,758.5" fill={RED} />
      </svg>
      <div style={{ ...textStyle, left: 439, top: 743, fontSize: 28 }}>{legendLabels[0]}</div>
      <div style={{ ...textStyle, left: 605, top: 743, fontSize: 28 }}>{legendLabels[1]}</div>
      <div style={{ ...textStyle, left: 686, top: 743, fontSize: 28 }}>{legendLabels[2]}</div>
    </div>
  );
}
